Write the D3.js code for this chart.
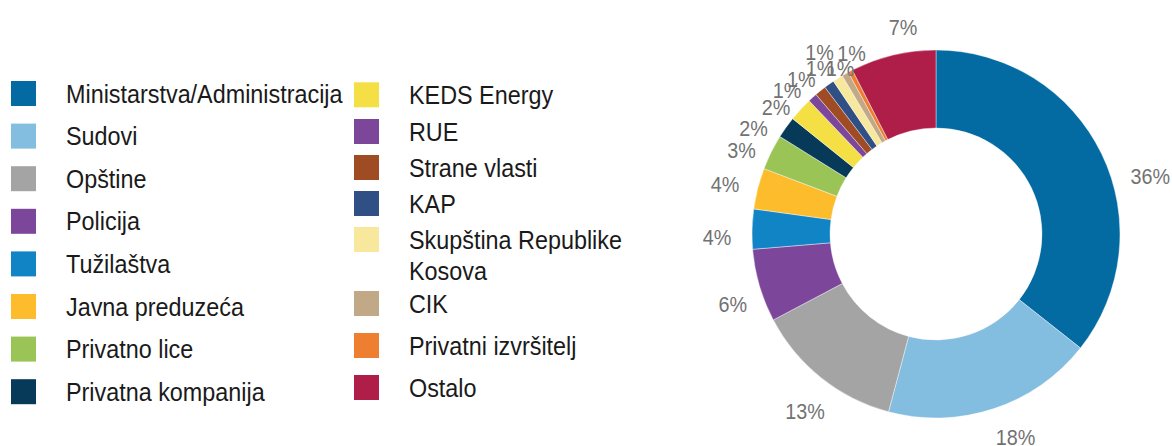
<!DOCTYPE html>
<html>
<head>
<meta charset="utf-8">
<script src="https://cdn.jsdelivr.net/npm/d3@7"></script>
<style>
  html, body { margin: 0; padding: 0; background: #ffffff; }
  svg { display: block; }
  text { font-family: "Liberation Sans", Arial, sans-serif; }
</style>
</head>
<body>
<svg id="chart" width="1172" height="446"></svg>
<script>
// ---- data ----
const categories = [
  "Ministarstva/Administracija", "Sudovi", "Opštine", "Policija", "Tužilaštva",
  "Javna preduzeća", "Privatno lice", "Privatna kompanija",
  "KEDS Energy", "RUE", "Strane vlasti", "KAP", "Skupština Republike Kosova",
  "CIK", "Privatni izvršitelj", "Ostalo"
];
const shares = [35.6, 18.5, 13.1, 6.4, 3.5, 3.6, 3.1, 1.9, 2.1, 0.8, 1.0, 0.9, 0.9, 0.6, 0.4, 7.5];
const labels = ["36%", "18%", "13%", "6%", "4%", "4%", "3%", "2%", "2%", "1%", "1%", "1%", "1%", "1%", "1%", "7%"];
const colors = [
  "#036ba2", "#83bde0", "#a4a4a4", "#7c479b", "#1184c6",
  "#fdbc2b", "#9bc456", "#073a59",
  "#f4e045", "#7c479b", "#9f4b23", "#304f85", "#f7e89e",
  "#c1a988", "#ee7f31", "#af1e49"
];

// ---- layout (not data) ----
const cx = 936, cy = 234, rOuter = 184, rInner = 106, rLabel = 213;
const labelAngleShift = [10.8, -3, -2, -2.8, -2.4, -0.9, -3, -5.3, -4.2, -3.9, -2.2, 0.5, -0.4, -0.4, 2.8, 4.5];
const labelRadiusShift = [9, 5, 7, 2, 6, 4, -1, -2, -9, -6, -8, -11, 3, -21, -13, -3];
const sx = 0.9;               // horizontal squeeze of the condensed-looking font
const col1 = { sw: 11, tx: 66, y0: 93.5, step: 42.6 };
const col2 = { sw: 354, tx: 409, centers: [94.8, 131.5, 167.5, 203.5, 239.5, 303.5, 345.5, 387.5] };
const swatch = 25;

const svg = d3.select("#chart");

// ---- donut ----
const pie = d3.pie().sort(null).value(d => d).startAngle(0).endAngle(2 * Math.PI);
const arcs = pie(shares);
const arc = d3.arc().innerRadius(rInner).outerRadius(rOuter);
const g = svg.append("g").attr("transform", `translate(${cx},${cy})`);
g.selectAll("path").data(arcs).enter().append("path")
  .attr("d", arc)
  .attr("fill", (d, i) => colors[i])
  .attr("stroke", "#ffffff")
  .attr("stroke-width", 0.4);

g.selectAll("text.lbl").data(arcs).enter().append("text")
  .attr("class", "lbl")
  .attr("transform", (d, i) => {
    const a = (d.startAngle + d.endAngle) / 2 + labelAngleShift[i] * Math.PI / 180;
    const r = rLabel + labelRadiusShift[i];
    const la = d3.arc().innerRadius(r).outerRadius(r).startAngle(a).endAngle(a);
    const [x, y] = la.centroid();
    return `translate(${x},${y}) scale(${sx},1)`;
  })
  .attr("text-anchor", "middle")
  .attr("dy", "0.36em")
  .attr("font-size", 22)
  .attr("fill", "#727272")
  .text((d, i) => labels[i]);

// ---- legend ----
const leg = svg.append("g");
categories.forEach((name, i) => {
  const inCol1 = i < 8;
  const cyy = inCol1 ? col1.y0 + i * col1.step : col2.centers[i - 8];
  const swx = inCol1 ? col1.sw : col2.sw;
  const tx = inCol1 ? col1.tx : col2.tx;
  leg.append("rect")
    .attr("x", swx).attr("y", cyy - swatch / 2)
    .attr("width", swatch).attr("height", swatch)
    .attr("fill", colors[i]);
  // wrap long names into lines no wider than 215px
  const words = name.split(" ");
  const lines = [];
  let cur = "";
  const probe = leg.append("text").attr("font-size", 25).attr("visibility", "hidden");
  words.forEach(w => {
    const test = cur ? cur + " " + w : w;
    probe.text(test);
    if (!inCol1 && probe.node().getComputedTextLength() * 0.935 > 215 && cur) {
      lines.push(cur); cur = w;
    } else cur = test;
  });
  lines.push(cur);
  probe.remove();
  lines.forEach((ln, k) => {
    leg.append("text")
      .attr("transform", `translate(${tx},${cyy + 9 + k * 31}) scale(0.935,1)`)
      .attr("font-size", 25)
      .attr("fill", "#1a1a1a")
      .text(ln);
  });
});
</script>
</body>
</html>
